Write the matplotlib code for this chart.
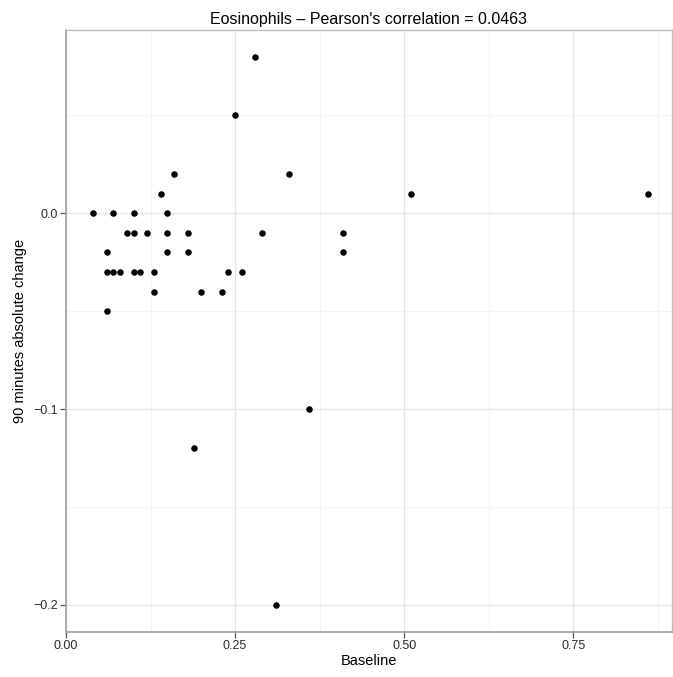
import numpy as np
import matplotlib
matplotlib.use("Agg")
from matplotlib import pyplot as plt

plt.rcParams['font.family'] = ['Liberation Sans', 'DejaVu Sans']

# valori
baseline = [0.04, 0.07, 0.10, 0.15,
            0.09, 0.10, 0.12, 0.15, 0.18, 0.29, 0.41,
            0.06, 0.15, 0.18, 0.41,
            0.06, 0.07, 0.08, 0.10, 0.11, 0.13, 0.24, 0.26,
            0.13, 0.20, 0.23,
            0.06,
            0.14, 0.16, 0.33, 0.25, 0.28,
            0.51, 0.86, 0.36, 0.19, 0.31]
change_90 = [0.0, 0.0, 0.0, 0.0,
             -0.01, -0.01, -0.01, -0.01, -0.01, -0.01, -0.01,
             -0.02, -0.02, -0.02, -0.02,
             -0.03, -0.03, -0.03, -0.03, -0.03, -0.03, -0.03, -0.03,
             -0.04, -0.04, -0.04,
             -0.05,
             0.01, 0.02, 0.02, 0.05, 0.08,
             0.01, 0.01, -0.10, -0.12, -0.20]

x_ticks = [0.0, 0.25, 0.50, 0.75]
x_labels = ['0.00', '0.25', '0.50', '0.75']
y_ticks = [-0.2, -0.1, 0.0]
y_labels = ['\u22120.2', '\u22120.1', '0.0']

fig = plt.figure(figsize=(6.73, 6.77), dpi=100)
ax = fig.add_axes([0.098, 0.0665, 0.9005, 0.8892])

ax.scatter(baseline, change_90, s=22, color='black', zorder=3, linewidths=0)

ax.set_xlim(0.0, 0.896)
ax.set_ylim(-0.2138, 0.0936)

ax.set_xticks(x_ticks)
ax.set_xticklabels(x_labels)
ax.set_yticks(y_ticks)
ax.set_yticklabels(y_labels)
ax.set_xticks([0.125, 0.375, 0.625, 0.875], minor=True)
ax.set_yticks([-0.15, -0.05, 0.05], minor=True)

ax.grid(True, which='major', color='#e5e5e5', linewidth=0.9, zorder=0)
ax.grid(True, which='minor', color='#f3f3f3', linewidth=0.6, zorder=0)
ax.set_axisbelow(True)

for side in ['top', 'right']:
    ax.spines[side].set_color('#bdbdbd')
    ax.spines[side].set_linewidth(1.0)
for side in ['left', 'bottom']:
    ax.spines[side].set_color('#a0a0a0')
    ax.spines[side].set_linewidth(1.2)

ax.tick_params(which='major', length=4, width=0.9, color='#555555',
               labelsize=9, labelcolor='#2b2b2b', pad=2)
ax.tick_params(which='minor', length=0)

ax.set_xlabel('Baseline', fontsize=10.5, labelpad=1)
ax.set_ylabel('90 minutes absolute change', fontsize=10.5, labelpad=4)
ax.set_title("Eosinophils \u2013 Pearson's correlation = 0.0463", fontsize=11.5, pad=4)

fig.savefig('out.png', dpi=100)
